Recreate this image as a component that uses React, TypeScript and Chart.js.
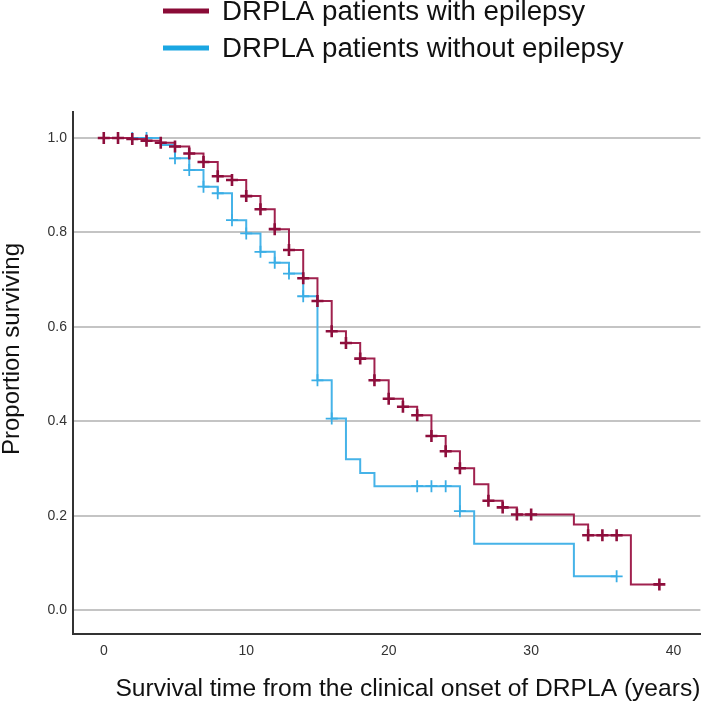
import React, { useEffect, useRef } from "react";
import { Chart, registerables } from "chart.js";

Chart.register(...registerables);

// ---- data ----
const seriesNames = ["DRPLA patients with epilepsy", "DRPLA patients without epilepsy"];
const lineColors = ["#A0214E", "#46B3E8"];
const censorColors = ["#8E0E3C", "#3AAEE6"];
const legendColors = ["#8A0B37", "#1AA6E2"];

// with epilepsy: survival at each time, and whether a censor mark sits there
const epiTimes = [0, 1, 2, 3, 4, 5, 6, 7, 8, 9, 10, 11, 12, 13, 14, 15, 16, 17, 18, 19, 20, 21, 22, 23, 24, 25, 26, 27, 28, 29, 30, 33, 34, 35, 36, 37, 39];
const epiSurv = [1.0, 1.0, 0.998, 0.994, 0.99, 0.982, 0.967, 0.949, 0.919, 0.911, 0.877, 0.849, 0.807, 0.763, 0.703, 0.655, 0.591, 0.566, 0.533, 0.487, 0.448, 0.431, 0.413, 0.369, 0.337, 0.301, 0.267, 0.232, 0.218, 0.203, 0.203, 0.182, 0.159, 0.159, 0.159, 0.055, 0.055];
const epiCensored = [1, 1, 1, 1, 1, 1, 1, 1, 1, 1, 1, 1, 1, 1, 1, 1, 1, 1, 1, 1, 1, 1, 1, 1, 1, 1, 0, 1, 1, 1, 1, 0, 1, 1, 1, 0, 1];

// without epilepsy
const nonTimes = [0, 2, 3, 4, 5, 6, 7, 8, 9, 10, 11, 12, 13, 14, 15, 16, 17, 18, 19, 22, 23, 24, 25, 26, 33, 36];
const nonSurv = [1.0, 1.0, 1.0, 0.985, 0.957, 0.932, 0.897, 0.883, 0.826, 0.798, 0.759, 0.736, 0.713, 0.665, 0.487, 0.406, 0.32, 0.291, 0.263, 0.263, 0.263, 0.263, 0.21, 0.141, 0.072, 0.072];
const nonCensored = [0, 1, 1, 0, 1, 1, 1, 1, 1, 1, 1, 1, 1, 1, 1, 1, 0, 0, 0, 1, 1, 1, 1, 0, 0, 1];

const xTicks = [0, 10, 20, 30, 40];
const yTicks = [0.0, 0.2, 0.4, 0.6, 0.8, 1.0];
const xTitle = "Survival time from the clinical onset of DRPLA (years)";
const yTitle = "Proportion surviving";

const X_MIN = -2.16;
const X_MAX = 41.88;
const Y_MIN = -0.05;
const Y_MAX = 1.055;

const FONT = "'Liberation Sans', Arial, Helvetica, sans-serif";

function toPoints(times: number[], surv: number[]) {
  return times.map((t, i) => ({ x: t, y: surv[i] }));
}
function censorPoints(times: number[], surv: number[], flags: number[]) {
  return times.map((t, i) => ({ x: t, y: surv[i], c: flags[i] })).filter((p) => p.c).map((p) => ({ x: p.x, y: p.y }));
}

const overlayPlugin = {
  id: "overlay",
  afterDraw(chart: any) {
    const ctx = chart.ctx as CanvasRenderingContext2D;
    ctx.save();
    const rows = [11, 48];
    seriesNames.forEach((name, i) => {
      const y = rows[i];
      ctx.strokeStyle = legendColors[i];
      ctx.lineWidth = 5;
      ctx.lineCap = "butt";
      ctx.beginPath();
      ctx.moveTo(163, y);
      ctx.lineTo(209, y);
      ctx.stroke();
      ctx.fillStyle = "#111";
      ctx.font = `27.7px ${FONT}`;
      ctx.textBaseline = "middle";
      ctx.textAlign = "left";
      ctx.fillText(name, 222, y + 1);
    });
    ctx.translate(12, 349);
    ctx.rotate(-Math.PI / 2);
    ctx.textAlign = "center";
    ctx.textBaseline = "middle";
    ctx.fillStyle = "#111";
    ctx.font = `24px ${FONT}`;
    ctx.fillText(yTitle, 0, 0);
    ctx.restore();
  },
};

export default function App() {
  const ref = useRef<HTMLCanvasElement | null>(null);
  useEffect(() => {
    document.body.style.margin = "0";
    if (!ref.current) return;
    const chart = new Chart(ref.current, {
      type: "line",
      data: {
        datasets: [
          {
            label: seriesNames[0] + " censored",
            data: censorPoints(epiTimes, epiSurv, epiCensored),
            showLine: false,
            pointStyle: "cross",
            pointRadius: 6,
            pointBorderWidth: 2.6,
            pointBorderColor: censorColors[0],
            pointBackgroundColor: censorColors[0],
            order: 0,
          },
          {
            label: seriesNames[0],
            data: toPoints(epiTimes, epiSurv),
            stepped: "before",
            borderColor: lineColors[0],
            borderWidth: 2,
            pointRadius: 0,
            fill: false,
            order: 1,
          },
          {
            label: seriesNames[1] + " censored",
            data: censorPoints(nonTimes, nonSurv, nonCensored),
            showLine: false,
            pointStyle: "cross",
            pointRadius: 6,
            pointBorderWidth: 1.8,
            pointBorderColor: censorColors[1],
            pointBackgroundColor: censorColors[1],
            order: 2,
          },
          {
            label: seriesNames[1],
            data: toPoints(nonTimes, nonSurv),
            stepped: "before",
            borderColor: lineColors[1],
            borderWidth: 2,
            pointRadius: 0,
            fill: false,
            order: 3,
          },
        ],
      },
      options: {
        animation: false,
        responsive: false,
        events: [],
        layout: { padding: { top: 112, right: 5, left: 0, bottom: 0 } },
        plugins: {
          legend: { display: false },
          tooltip: { enabled: false },
          title: { display: false },
        },
        scales: {
          x: {
            type: "linear",
            min: X_MIN,
            max: X_MAX,
            afterFit: (scale: any) => {
              scale.height = 74;
            },
            afterBuildTicks: (scale: any) => {
              scale.ticks = xTicks.map((v) => ({ value: v }));
            },
            grid: { display: false, drawTicks: false },
            border: { display: true, color: "#333", width: 2 },
            ticks: {
              padding: 9,
              color: "#333",
              font: { family: FONT, size: 14 },
              callback: (v: any) => String(v),
            },
            title: {
              display: true,
              text: xTitle,
              align: "end",
              color: "#111",
              font: { family: FONT, size: 24.6 },
              padding: { top: 0, bottom: 4 },
            },
          },
          y: {
            type: "linear",
            min: Y_MIN,
            max: Y_MAX,
            afterFit: (scale: any) => {
              scale.width = 73;
            },
            afterBuildTicks: (scale: any) => {
              scale.ticks = yTicks.map((v) => ({ value: v }));
            },
            grid: { display: true, drawTicks: false, color: "#c4c4c4", lineWidth: 2 },
            border: { display: true, color: "#333", width: 2 },
            ticks: {
              padding: 6,
              color: "#333",
              font: { family: FONT, size: 14 },
              callback: (v: any) => Number(v).toFixed(1),
            },
          },
        },
      },
      plugins: [overlayPlugin],
    });
    return () => chart.destroy();
  }, []);
  return (
    <div style={{ width: 709, height: 708, position: "relative", background: "#fff" }}>
      <canvas ref={ref} width={709} height={708} style={{ width: 709, height: 708, display: "block" }} />
    </div>
  );
}
